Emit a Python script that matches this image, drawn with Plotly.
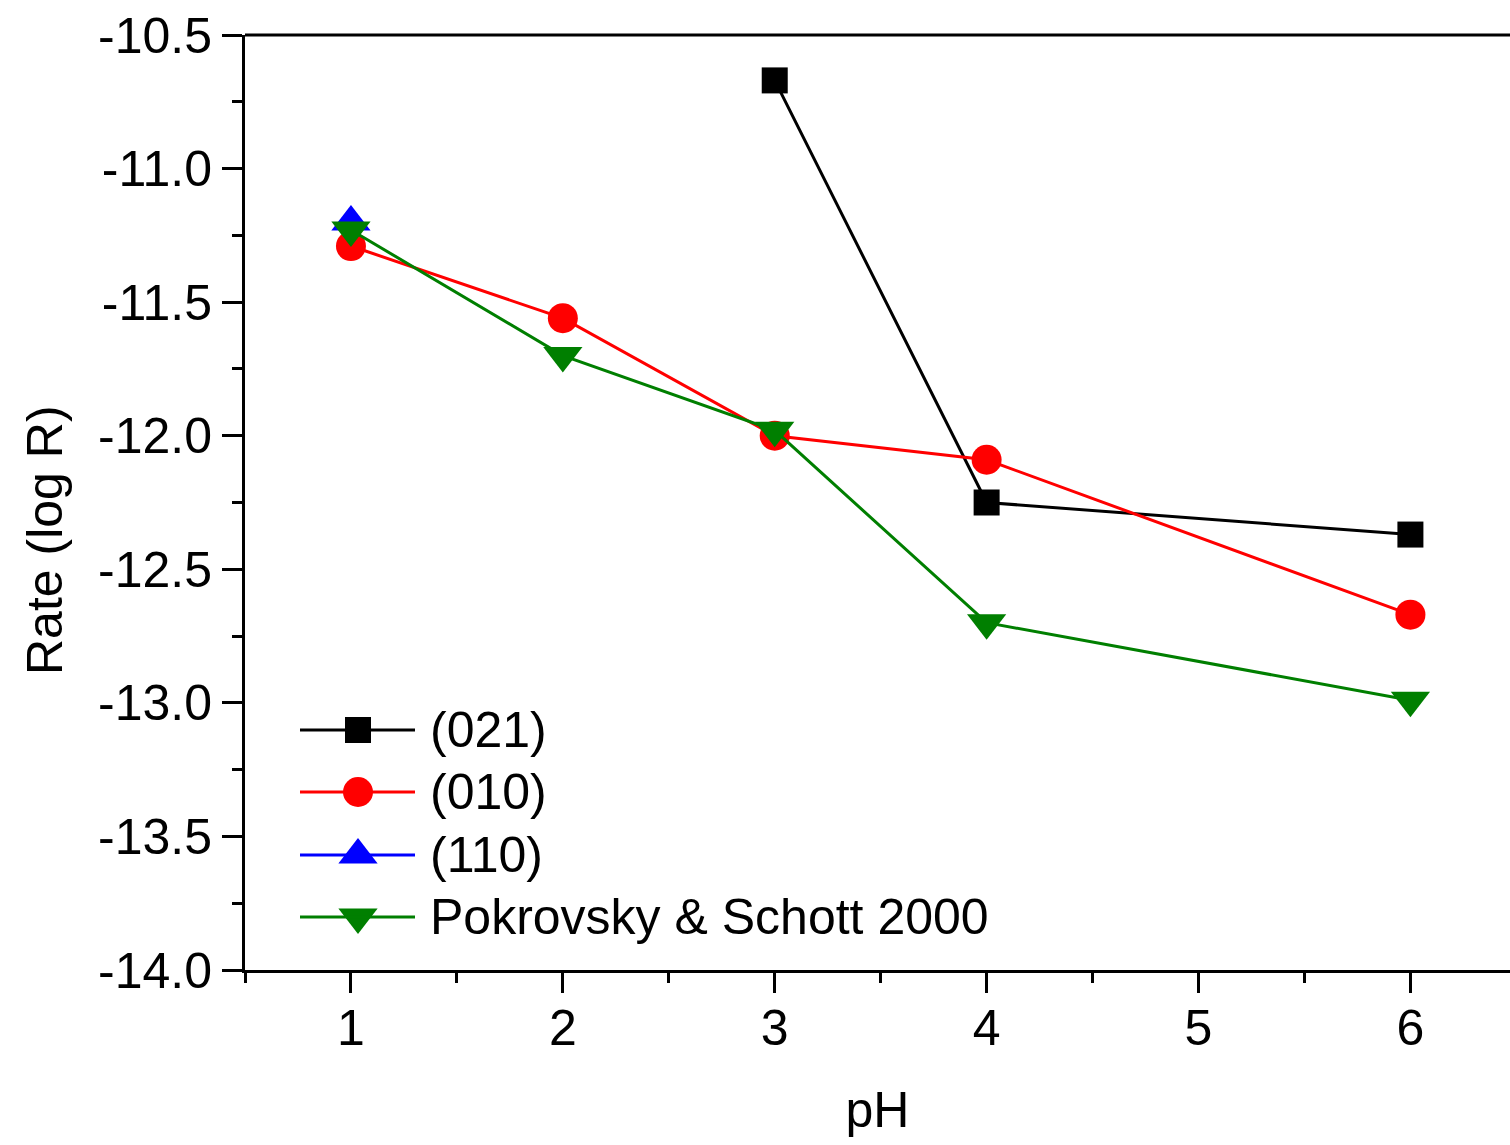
import plotly.graph_objects as go

# ---- data ----
series_names = ["(021)", "(010)", "(110)", "Pokrovsky & Schott 2000"]
ph_021 = [3, 4, 6]
rate_021 = [-10.67, -12.25, -12.37]
ph_010 = [1, 2, 3, 4, 6]
rate_010 = [-11.29, -11.56, -12.00, -12.09, -12.67]
ph_110 = [1]
rate_110 = [-11.20]
ph_pok = [1, 2, 3, 4, 6]
rate_pok = [-11.23, -11.70, -11.98, -12.70, -12.99]

x_ticks = [1, 2, 3, 4, 5, 6]
y_ticks = [-14.0, -13.5, -13.0, -12.5, -12.0, -11.5, -11.0, -10.5]
y_ticklabels = ["%.1f" % v for v in y_ticks]  # ASCII hyphen minus

colors = ["#000000", "#FF0000", "#0000FF", "#007F00"]
symbols = ["square", "circle", "triangle-up", "triangle-down"]
msizes = [26, 30, 34, 34]

W, H = 1510, 1145
L, R, T, B = 245, 0, 35, 175
pw = W - L - R
ph_ = H - T - B

def px(xp):
    return (xp - L) / pw

def py(yp):
    return (H - B - yp) / ph_

FONT = "Liberation Sans, Arial, sans-serif"
LW = 3

fig = go.Figure()
xs = [ph_021, ph_010, ph_110, ph_pok]
ys = [rate_021, rate_010, rate_110, rate_pok]
for i in range(4):
    fig.add_trace(go.Scatter(
        x=xs[i], y=ys[i], mode="lines+markers", name=series_names[i],
        line=dict(color=colors[i], width=LW),
        marker=dict(symbol=symbols[i], size=msizes[i], color=colors[i]),
        showlegend=False, cliponaxis=False))

# custom legend (positions in paper coordinates)
rows = [730, 792, 855, 917]
shapes = []
for i in range(4):
    yy = py(rows[i])
    shapes.append(dict(type="line", xref="paper", yref="paper",
                       x0=px(300), x1=px(415), y0=yy, y1=yy,
                       line=dict(color=colors[i], width=LW)))
    fig.add_trace(go.Scatter(
        x=[px(358)], y=[yy], xaxis="x2", yaxis="y2", mode="markers",
        marker=dict(symbol=symbols[i], size=msizes[i], color=colors[i]),
        showlegend=False, hoverinfo="skip", cliponaxis=False))
    fig.add_annotation(x=px(428), y=yy, xref="paper", yref="paper",
                       text=series_names[i], showarrow=False,
                       xanchor="left", yanchor="middle",
                       font=dict(size=50, family=FONT, color="black"))

# y-axis title
fig.add_annotation(x=px(45), y=py(540), xref="paper", yref="paper",
                   text="Rate (log R)", showarrow=False, textangle=-90,
                   xanchor="center", yanchor="middle",
                   font=dict(size=50, family=FONT, color="black"))

# top frame line
shapes.append(dict(type="line", xref="paper", yref="paper", x0=0, x1=1, y0=1, y1=1,
                   line=dict(color="black", width=3)))

fig.update_layout(
    width=W, height=H,
    margin=dict(l=L, r=R, t=T, b=B),
    paper_bgcolor="white", plot_bgcolor="white",
    font=dict(family=FONT, size=50, color="black"),
    shapes=shapes,
    xaxis=dict(range=[0.5, 6.47], tickmode="array", tickvals=x_ticks,
               ticks="outside", ticklen=20, tickwidth=3, tickcolor="black",
               ticklabelstandoff=-8,
               minor=dict(tickvals=[0.5, 1.5, 2.5, 3.5, 4.5, 5.5], ticks="outside",
                          ticklen=10, tickwidth=3, tickcolor="black"),
               showline=True, linecolor="black", linewidth=3, showgrid=False,
               zeroline=False, tickfont=dict(size=50),
               title=dict(text="pH", font=dict(size=50), standoff=37)),
    yaxis=dict(range=[-14.0, -10.5], tickmode="array", tickvals=y_ticks,
               ticktext=y_ticklabels, ticks="outside", ticklen=20, tickwidth=3,
               tickcolor="black",
               minor=dict(dtick=0.25, tick0=-14.0, ticks="outside", ticklen=10,
                          tickwidth=3, tickcolor="black"),
               showline=True, linecolor="black", linewidth=3, showgrid=False,
               zeroline=False, tickfont=dict(size=50)),
    xaxis2=dict(range=[0, 1], overlaying="x", visible=False, fixedrange=True),
    yaxis2=dict(range=[0, 1], overlaying="y", visible=False, fixedrange=True),
)

fig.write_html("out.html")
